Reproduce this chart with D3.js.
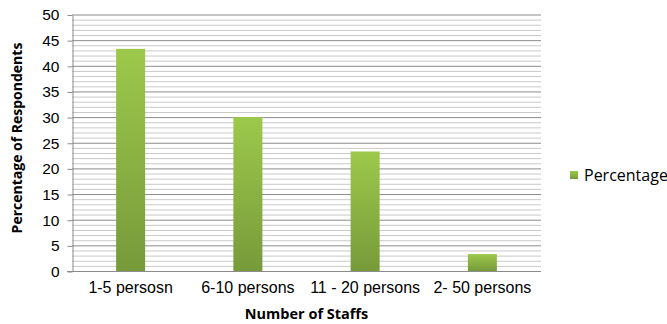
<!DOCTYPE html>
<html>
<head>
<meta charset="utf-8">
<script src="https://cdn.jsdelivr.net/npm/d3@7"></script>
<style>
  html, body { margin: 0; padding: 0; background: #fff; }
  svg { display: block; font-family: "Open Sans", "Liberation Sans", sans-serif; }
</style>
</head>
<body>
<svg id="chart" width="667" height="324"></svg>
<script>
// Staff size categories and share of respondents (%)
const categories = ["1-5 persosn", "6-10 persons", "11 - 20 persons", "2- 50 persons"];
const percentages = [43.3, 30, 23.3, 3.3];
const yTicks = [0, 5, 10, 15, 20, 25, 30, 35, 40, 45, 50];
const seriesName = "Percentage";

const svg = d3.select("#chart");
const m = { left: 72, right: 541, top: 14.5, bottom: 271 };

const x = d3.scaleBand().domain(categories).range([m.left, m.right]).paddingInner(0).paddingOuter(0);
const y = d3.scaleLinear().domain([0, 50]).range([m.bottom, m.top]);

// Bar fill: bright green on top fading to olive at the base
const defs = svg.append("defs");
const grad = defs.append("linearGradient").attr("id", "barGrad")
  .attr("x1", 0).attr("y1", 0).attr("x2", 0).attr("y2", 1);
grad.append("stop").attr("offset", "0%").attr("stop-color", "#9cc94b");
grad.append("stop").attr("offset", "100%").attr("stop-color", "#779a3a");

// Minor gridlines every unit, major every 5
const minor = d3.range(1, 50).filter(v => v % 5 !== 0);
svg.append("g").selectAll("line").data(minor).join("line")
  .attr("x1", m.left).attr("x2", m.right)
  .attr("y1", d => y(d) + 0.5).attr("y2", d => y(d) + 0.5)
  .attr("stroke", "#c9c9c9").attr("stroke-width", 1);
svg.append("g").selectAll("line").data(yTicks.filter(v => v > 0)).join("line")
  .attr("x1", m.left).attr("x2", m.right)
  .attr("y1", d => y(d) + 0.5).attr("y2", d => y(d) + 0.5)
  .attr("stroke", "#8c8c8c").attr("stroke-width", 1);

// Y axis with outward ticks
const yAxis = svg.append("g").attr("transform", `translate(${m.left + 0.5},0.5)`)
  .call(d3.axisLeft(y).tickValues(yTicks).tickSize(5).tickPadding(8).tickSizeOuter(0));
yAxis.select(".domain").attr("stroke", "#8c8c8c");
yAxis.selectAll(".tick line").attr("stroke", "#8c8c8c");
yAxis.selectAll("text").attr("font-size", 15.5).attr("fill", "#000");

// X axis baseline
const xAxis = svg.append("g").attr("transform", `translate(0,${m.bottom + 0.5})`)
  .call(d3.axisBottom(x).tickSize(0).tickPadding(10).tickSizeOuter(0));
xAxis.select(".domain").attr("stroke", "#8c8c8c").attr("d", `M${m.left - 5},0H${m.right}`);
xAxis.selectAll("text").attr("font-size", 16).attr("fill", "#000");

// Bars
const bw = 29;
svg.append("g").selectAll("rect").data(percentages).join("rect")
  .attr("x", (d, i) => x(categories[i]) + x.bandwidth() / 2 - bw / 2)
  .attr("width", bw)
  .attr("y", d => y(d))
  .attr("height", d => y(0) - y(d))
  .attr("fill", "url(#barGrad)");

// Axis titles
svg.append("text").attr("x", (m.left + m.right) / 2).attr("y", 319)
  .attr("text-anchor", "middle").attr("font-size", 14.5).attr("font-weight", "bold")
  .text("Number of Staffs");
svg.append("text").attr("transform", "translate(22,138) rotate(-90)")
  .attr("text-anchor", "middle").attr("font-size", 14).attr("font-weight", "bold")
  .text("Percentage of Respondents");

// Legend
const lg = svg.append("g").attr("transform", "translate(570,169)");
lg.append("rect").attr("width", 8).attr("height", 8).attr("y", 2).attr("fill", "url(#barGrad)");
lg.append("text").attr("x", 14).attr("y", 6).attr("dy", "0.35em")
  .attr("font-size", 16).text(seriesName);
</script>
</body>
</html>
